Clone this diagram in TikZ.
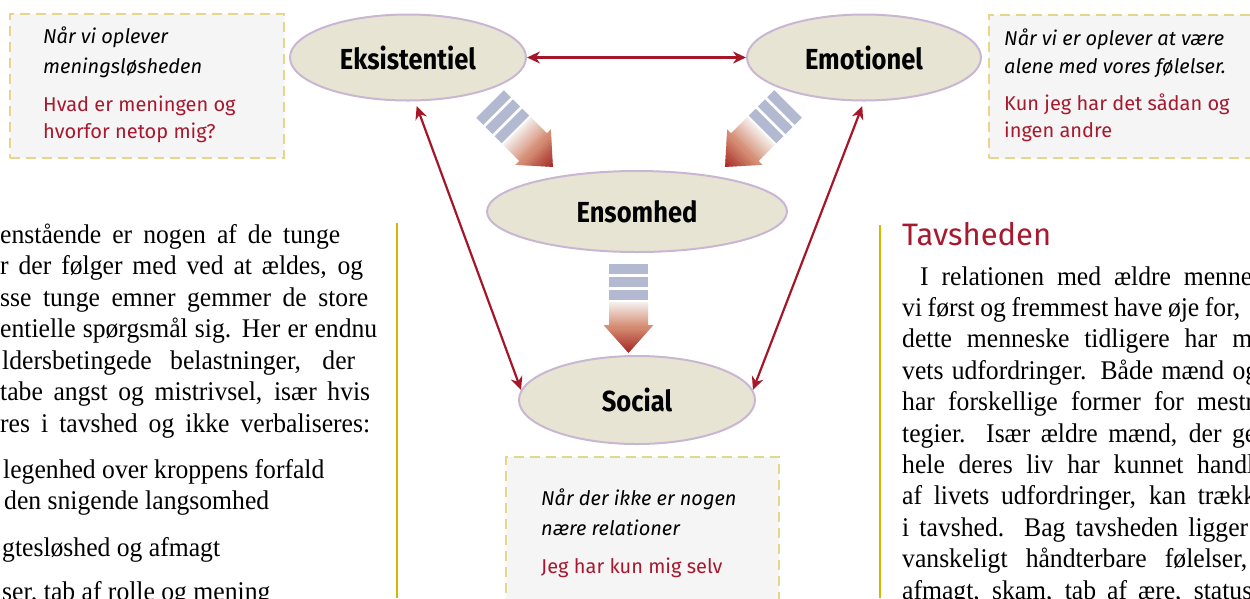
\documentclass[tikz,border=0pt]{standalone}
\usepackage{fontspec}
\setmainfont{Liberation Serif}[FakeStretch=0.95]
\newfontfamily\firafont{Fira Sans}
\newfontfamily\labelfont{Fira Sans}[FakeStretch=0.88]
\usetikzlibrary{shapes.geometric,arrows.meta}
\definecolor{txtred}{RGB}{166,25,46}
\definecolor{linered}{RGB}{165,22,40}
\definecolor{ellfill}{RGB}{232,228,211}
\definecolor{elldraw}{RGB}{200,182,210}
\definecolor{boxfill}{RGB}{245,245,245}
\definecolor{boxdraw}{RGB}{229,214,140}
\definecolor{stripecol}{RGB}{179,185,209}
\definecolor{arrowdark}{RGB}{163,34,34}
\definecolor{arrowmid}{RGB}{212,138,112}
\definecolor{arrowlight}{RGB}{245,240,237}
\definecolor{colline}{RGB}{212,184,0}
\tikzset{
  ell/.style={ellipse, fill=ellfill, draw=elldraw, line width=2pt, inner sep=0pt,
    font=\labelfont\bfseries\fontsize{29}{32}\selectfont},
  note/.style={draw=boxdraw, fill=boxfill, line width=1.8pt, dash pattern=on 10pt off 6pt,
    inner sep=0pt, anchor=north west},
  conn/.style={draw=linered, line width=2.2pt,
    {Stealth[length=13pt,width=12pt]}-{Stealth[length=13pt,width=12pt]}},
  ital/.style={anchor=base west, inner sep=0pt, font=\firafont\itshape\fontsize{20}{24}\selectfont},
  redtxt/.style={anchor=base west, inner sep=0pt, text=txtred, font=\firafont\fontsize{20}{24}\selectfont},
  body/.style={anchor=base west, inner sep=0pt, font=\fontsize{27}{31}\selectfont},
  heading/.style={anchor=base west, inner sep=0pt, text=txtred, font=\firafont\fontsize{31}{34}\selectfont},
  colrule/.style={draw=colline, line width=1.5pt},
}
\newcommand\blockarrow[3]{%
  \begin{scope}[shift={(#1,#2)},rotate=#3]
    \fill[stripecol] (-19.5,0) rectangle (19.5,10);
    \fill[stripecol] (-19.5,13) rectangle (19.5,23);
    \fill[stripecol] (-19.5,26) rectangle (19.5,36);
    \begin{scope}
      \clip (-19.5,38) -- (19.5,38) -- (19.5,61) -- (25,61) -- (0,89) -- (-25,61) -- (-19.5,61) -- cycle;
      \foreach \i in {0,...,25} {
        \pgfmathtruncatemacro\pp{100*\i/25}
        \fill[arrowmid!\pp!arrowlight] (-26,38+\i) rectangle (26,39.3+\i);
      }
      \foreach \i in {26,...,51} {
        \pgfmathtruncatemacro\pp{100*(\i-26)/25}
        \fill[arrowdark!\pp!arrowmid] (-26,38+\i) rectangle (26,39.3+\i);
      }
    \end{scope}
  \end{scope}}
\begin{document}
\begin{tikzpicture}[x=1pt,y=-1pt]
\useasboundingbox (0,0) rectangle (1250,598);
\clip (0,0) rectangle (1250,598);

% note boxes
\node[note, minimum width=274pt, minimum height=144pt] (noteA) at (9,13) {};
\node[note, minimum width=275pt, minimum height=143pt] (noteB) at (988,14) {};
\node[note, minimum width=273pt, minimum height=160pt] (noteC) at (505,456) {};

\node[ital] (a1) at (43,43) {Når vi oplever};
\node[ital] (a2) at (43,73) {meningsløsheden};
\node[redtxt] (a3) at (43,111) {Hvad er meningen og};
\node[redtxt] (a4) at (43,138) {hvorfor netop mig?};

\node[ital] (b1) at (1004,45) {Når vi er oplever at være};
\node[ital] (b2) at (1004,73) {alene med vores følelser.};
\node[redtxt] (b3) at (1004,110) {Kun jeg har det sådan og};
\node[redtxt] (b4) at (1004,137) {ingen andre};

\node[ital] (c1) at (541,505) {Når der ikke er nogen};
\node[ital] (c2) at (541,535) {nære relationer};
\node[redtxt] (c3) at (541,573) {Jeg har kun mig selv};

% block arrows
\blockarrow{490}{104}{45}
\blockarrow{788}{104}{-45}
\blockarrow{628.5}{264}{0}

% ellipses
\node[ell, minimum width=236pt, minimum height=86pt] (eks) at (408,57.5) {Eksistentiel};
\node[ell, minimum width=234pt, minimum height=86pt] (emo) at (864,57.5) {Emotionel};
\node[ell, minimum width=300pt, minimum height=81pt] (ens) at (637,211.5) {Ensomhed};
\node[ell, minimum width=236pt, minimum height=88pt] (soc) at (637,400) {Social};

% connectors
\draw[conn] (eks.east) -- (emo.west);
\draw[conn, shorten <=5pt] (eks.-81) -- (soc.175);
\draw[conn, shorten <=5pt] (emo.-90) -- (soc.5);

% column rules
\draw[colrule] (397,223) -- (397,598);
\draw[colrule] (880,225) -- (880,598);

% left column text
\node[body] (l1) at (0,243) {\hbox to 340pt{enstående er nogen af de tunge}};
\node[body] (l2) at (0,274.5) {\hbox to 363pt{r der følger med ved at ældes, og}};
\node[body] (l3) at (0,306) {\hbox to 368pt{sse tunge emner gemmer de store}};
\node[body] (l4) at (0,337.5) {\hbox to 377pt{entielle spørgsmål sig. Her er endnu}};
\node[body] (l5) at (2,369) {\hbox to 353pt{ldersbetingede belastninger, der}};
\node[body] (l6) at (0,400.5) {\hbox to 370pt{tabe angst og mistrivsel, især hvis}};
\node[body] (l7) at (0,432) {\hbox to 370pt{res i tavshed og ikke verbaliseres:}};
\node[body] (l8) at (3,478) {legenhed over kroppens forfald};
\node[body] (l9) at (4,509.5) {den snigende langsomhed};
\node[body] (l10) at (2,556) {gtesløshed og afmagt};
\node[body] (l11) at (2,600) {ser, tab af rolle og mening};

% right column text
\node[heading] (hd) at (902,245) {Tavsheden};
\node[body] (r1) at (920,285) {\hbox to 332pt{I relationen med ældre menne}};
\node[body] (r2) at (902,316.4) {\hbox to 338pt{vi først og fremmest have øje for,}};
\node[body] (r3) at (902,347.8) {\hbox to 350pt{dette menneske tidligere har m}};
\node[body] (r4) at (902,379.2) {\hbox to 356pt{vets udfordringer. Både mænd og}};
\node[body] (r5) at (902,410.6) {\hbox to 352pt{har forskellige former for mestr}};
\node[body] (r6) at (902,442) {\hbox to 354pt{tegier. Især ældre mænd, der ge}};
\node[body] (r7) at (902,473.4) {\hbox to 352pt{hele deres liv har kunnet handl}};
\node[body] (r8) at (902,504.8) {\hbox to 354pt{af livets udfordringer, kan trækk}};
\node[body] (r9) at (902,536.2) {\hbox to 346pt{i tavshed. Bag tavsheden ligger}};
\node[body] (r10) at (902,567.6) {\hbox to 345pt{vanskeligt håndterbare følelser,}};
\node[body] (r11) at (902,599) {\hbox to 350pt{afmagt, skam, tab af ære, status}};
\end{tikzpicture}
\end{document}
